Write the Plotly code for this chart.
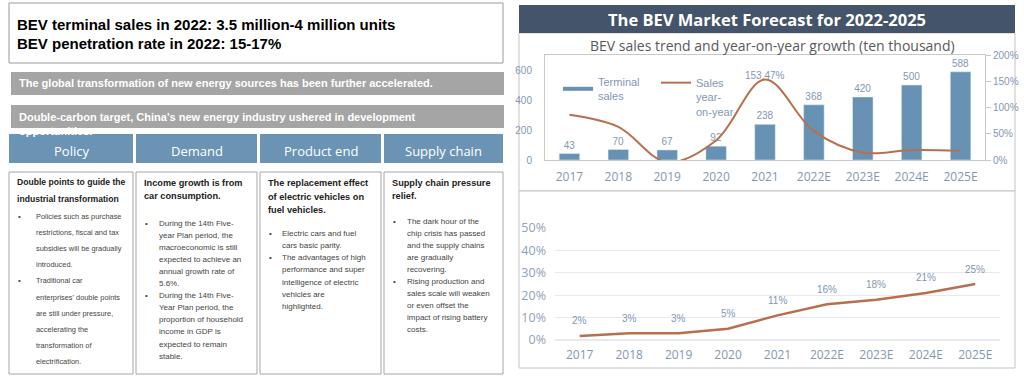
import plotly.graph_objects as go

W, H = 1024, 380

# ---------------- data ----------------
years = ["2017", "2018", "2019", "2020", "2021", "2022E", "2023E", "2024E", "2025E"]
terminal_sales = [43, 70, 67, 92, 238, 368, 420, 500, 588]          # ten thousand units
yoy_growth = [0.86, 0.63, -0.043, 0.373, 1.5347, 0.55, 0.141, 0.19, 0.176]
yoy_peak_label = "153.47%"
penetration = [0.018, 0.03, 0.03, 0.05, 0.11, 0.16, 0.18, 0.21, 0.25]
pen_labels = ["2%", "3%", "3%", "5%", "11%", "16%", "18%", "21%", "25%"]
sales_ticks = [0, 200, 400, 600]
yoy_ticks = [0, 0.5, 1.0, 1.5, 2.0]
pen_ticks = [0, 0.1, 0.2, 0.3, 0.4, 0.5]

headline = ["BEV terminal sales in 2022: 3.5 million-4 million units",
            "BEV penetration rate in 2022: 15-17%"]
banner1 = "The global transformation of new energy sources has been further accelerated."
banner2 = "Double-carbon target, China's new energy industry ushered in development"
banner2_overflow = "opportunities."
card_titles = ["Policy", "Demand", "Product end", "Supply chain"]
card_heads = [
    ["Double points to guide the", "industrial transformation"],
    ["Income growth is from", "car consumption."],
    ["The replacement effect", "of electric vehicles on", "fuel vehicles."],
    ["Supply chain pressure", "relief."],
]
card_bullets = [
    [["Policies such as purchase", "restrictions, fiscal and tax", "subsidies will be gradually", "introduced."],
     ["Traditional car", "enterprises' double points", "are still under pressure,", "accelerating the",
      "transformation of", "electrification."]],
    [["During the 14th Five-", "year Plan period, the", "macroeconomic is still", "expected to achieve an",
      "annual growth rate of", "5.6%."],
     ["During the 14th Five-", "Year Plan period, the", "proportion of household", "income in GDP is",
      "expected to remain", "stable."]],
    [["Electric cars and fuel", "cars basic parity."],
     ["The advantages of high", "performance and super", "intelligence of electric", "vehicles are",
      "highlighted."]],
    [["The dark hour of the", "chip crisis has passed", "and the supply chains", "are gradually",
      "recovering."],
     ["Rising production and", "sales scale will weaken", "or even offset the", "impact of rising battery",
      "costs."]],
]
panel_title = "The BEV Market Forecast for 2022-2025"
chart1_title = "BEV sales trend and year-on-year growth (ten thousand)"

# ---------------- style ----------------
BAR = "#6892b3"
LINE = "#b96f4e"
LBL = "#8397b3"
HEADFILL = "#6b94b4"
GRAYBAR = "#a5a5a5"
TITLEBAR = "#44546a"
BORDER = "#a6a6a6"
ARIAL = "Liberation Sans, Arial, sans-serif"
SEGOE = "Open Sans, Noto Sans, sans-serif"
PAD = 3


def px(x):
    return x / W


def py(y):
    return 1 - y / H


shapes = []
annotations = []


def rect(x0, y0, x1, y1, fill="rgba(0,0,0,0)", line=BORDER, lw=1, layer="below"):
    shapes.append(dict(type="rect", xref="paper", yref="paper", x0=px(x0), x1=px(x1),
                       y0=py(y1), y1=py(y0), fillcolor=fill,
                       line=dict(color=line, width=lw), layer=layer))


def text(x, y, s, size, color="#000", family=ARIAL, xanchor="left", bold=False):
    if bold:
        s = "<b>" + s + "</b>"
    if xanchor == "left":
        x = x - PAD
    annotations.append(dict(xref="paper", yref="paper", x=px(x), y=py(y), text=s,
                            showarrow=False, xanchor=xanchor, yanchor="middle",
                            font=dict(size=size, color=color, family=family)))


# ---------------- left side ----------------
rect(9, 3, 503, 63, line="#9a9a9a")
text(18, 25, headline[0], 15, "#000", ARIAL, bold=True)
text(18, 43, headline[1], 15, "#000", ARIAL, bold=True)

rect(11, 72, 504, 95, fill=GRAYBAR, line=GRAYBAR, lw=0)
text(20, 83.5, banner1, 11, "#fff", ARIAL, bold=True)
rect(11, 105, 504, 128, fill=GRAYBAR, line=GRAYBAR, lw=0)
text(20, 117, banner2, 11, "#fff", ARIAL, bold=True)

cols = [(9, 133), (136, 257), (260, 381), (384, 503)]
for (x0, x1), t in zip(cols, card_titles):
    rect(x0, 134, x1, 163, fill=HEADFILL, line=HEADFILL, lw=0)
    text((x0 + x1) / 2, 151, t, 13, "#fff", SEGOE, xanchor="center")
text(20, 130.5, banner2_overflow, 11, "#fff", ARIAL, bold=True)

card_cfg = [
    dict(hy=182, hdy=17, by=216, bdy=16.2, hs=8.6, bs=7.4, tx=28),
    dict(hy=183, hdy=13, by=223, bdy=12.1, hs=9.2, bs=8, tx=24),
    dict(hy=183, hdy=13.5, by=233, bdy=12.3, hs=9.2, bs=8, tx=23),
    dict(hy=183, hdy=13, by=221, bdy=12.1, hs=9.2, bs=8, tx=24),
]
for (x0, x1), heads, bullets, cfg in zip(cols, card_heads, card_bullets, card_cfg):
    rect(x0, 172, x1, 374, fill="#fff", line=BORDER)
    for i, h in enumerate(heads):
        text(x0 + 9, cfg["hy"] + i * cfg["hdy"], h, cfg["hs"], "#222", ARIAL, bold=True)
    k = 0
    for b in bullets:
        for j, ln in enumerate(b):
            yy = cfg["by"] + k * cfg["bdy"]
            if j == 0:
                text(x0 + 10, yy, "•", 8, "#444", ARIAL)
            text(x0 + cfg["tx"], yy, ln, cfg["bs"], "#444", ARIAL)
            k += 1

# ---------------- right side panel ----------------
rect(519, 33, 1015, 191, fill="#fff", line="#c4c4c4")
rect(519, 191, 1015, 368, fill="#fff", line="#c4c4c4")
rect(519, 5, 1015, 33, fill=TITLEBAR, line=TITLEBAR, lw=0)
text(767, 19.5, panel_title, 16.5, "#fff", SEGOE, xanchor="center", bold=True)
text(772, 45, chart1_title, 14, "#595959", SEGOE, xanchor="center")

fig = go.Figure()

fig.add_trace(go.Bar(x=years, y=terminal_sales, marker_color=BAR, width=0.42,
                     text=[str(v) for v in terminal_sales], textposition="outside",
                     textfont=dict(size=10, color=LBL, family=ARIAL), cliponaxis=False,
                     showlegend=False, xaxis="x", yaxis="y"))
# legend proxies
fig.add_trace(go.Scatter(x=[None], y=[None], mode="lines", line=dict(color=BAR, width=4),
                         name="Terminal<br>sales", legend="legend", xaxis="x", yaxis="y"))
fig.add_trace(go.Scatter(x=years, y=yoy_growth, mode="lines",
                         line=dict(color=LINE, width=2, shape="spline", smoothing=1.0),
                         name="Sales<br>year-<br>on-year", legend="legend2",
                         xaxis="x", yaxis="y3"))

fig.add_trace(go.Scatter(x=years, y=penetration, mode="lines",
                         line=dict(color=LINE, width=2.5), showlegend=False,
                         xaxis="x2", yaxis="y2"))

# data labels (category index positions)
peak_i = yoy_growth.index(max(yoy_growth))
annotations.append(dict(xref="x", yref="y3", x=peak_i, y=yoy_growth[peak_i],
                        text=yoy_peak_label, showarrow=False, yshift=4, yanchor="middle",
                        font=dict(size=10, color=LBL, family=ARIAL)))
for i, (v, lab) in enumerate(zip(penetration, pen_labels)):
    annotations.append(dict(xref="x2", yref="y2", x=i, y=v, text=lab, showarrow=False,
                            yshift=15, font=dict(size=10, color=LBL, family=ARIAL)))

fig.update_layout(
    width=W, height=H, autosize=False,
    margin=dict(l=0, r=0, t=0, b=0, pad=0),
    paper_bgcolor="#fff", plot_bgcolor="rgba(0,0,0,0)",
    font=dict(family=SEGOE, color=LBL),
    bargap=0.58,
    xaxis=dict(domain=[px(545), px(985)], type="category", range=[-0.5, 8.5],
               showgrid=False, showline=True, linecolor="#c8c8c8", mirror=True,
               tickfont=dict(size=12, color=LBL, family=SEGOE), ticks="", ticklabelstandoff=6,
               anchor="y", automargin=False),
    yaxis=dict(domain=[py(160), py(55)], range=[0, 700], tickvals=sales_ticks,
               showgrid=False, showline=True, linecolor="#c8c8c8", mirror=True,
               zeroline=False, tickfont=dict(size=10, color=LBL, family=ARIAL),
               ticklabelstandoff=10, anchor="x", automargin=False),
    yaxis3=dict(overlaying="y", side="right", range=[0, 2.0], tickvals=yoy_ticks,
                tickformat=".0%", showgrid=False, showline=True, linecolor="#c8c8c8",
                ticks="outside", ticklen=5, tickcolor="#c8c8c8", zeroline=False,
                tickfont=dict(size=10, color=LBL, family=ARIAL), anchor="x", automargin=False),
    xaxis2=dict(domain=[px(555), px(1000)], type="category", range=[-0.5, 8.5],
                showgrid=False, showline=False, ticks="",
                tickfont=dict(size=12, color=LBL, family=SEGOE), ticklabelstandoff=6,
                anchor="y2", automargin=False),
    yaxis2=dict(domain=[py(340), py(228)], range=[0, 0.5], tickvals=pen_ticks,
                tickformat=".0%", showgrid=True, gridcolor="#e6eaf0", gridwidth=1,
                zeroline=True, zerolinecolor="#e6eaf0", showline=False,
                tickfont=dict(size=12.5, color="#8fa1ba", family=SEGOE),
                ticklabelstandoff=8, anchor="x2", automargin=False),
    legend=dict(x=px(558), y=py(89), xanchor="left", yanchor="middle", bgcolor="rgba(0,0,0,0)",
                font=dict(size=11, color=LBL, family=ARIAL), itemwidth=30, valign="middle"),
    legend2=dict(x=px(656), y=py(69), xanchor="left", yanchor="top", bgcolor="rgba(0,0,0,0)",
                 font=dict(size=11, color=LBL, family=ARIAL), itemwidth=30, valign="top"),
    shapes=shapes,
    annotations=annotations,
)

fig.write_html("out.html", config={"displayModeBar": False},
               post_script="document.body.style.margin='0';document.body.style.padding='0';"
                           "document.body.style.overflow='hidden';")
